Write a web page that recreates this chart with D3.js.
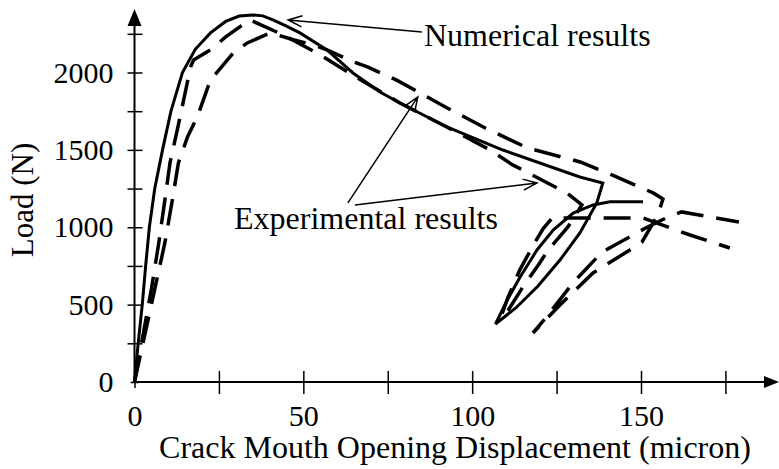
<!DOCTYPE html>
<html>
<head>
<meta charset="utf-8">
<script src="https://cdn.jsdelivr.net/npm/d3@7"></script>
<style>
  body { margin: 0; background: #fff; }
  svg { display: block; }
  text { font-family: "Liberation Serif", "Times New Roman", serif; fill: #000; }
</style>
</head>
<body>
<div id="chart"></div>
<script>
// [CMOD (micron), load (N)]
var numerical = [[0,0],[1,230],[2.3,500],[3.3,750],[4.4,1000],[6,1250],[8.3,1500],[10.8,1750],[14.2,2000],
  [18,2150],[22.5,2256],[27,2330],[31,2365],[35,2372],[38,2366],[41,2340],[45,2300],[49,2256],[57,2146],
  [64.7,1997],[72.7,1874],[78.6,1803],[92.5,1648],[109.1,1499],[131.9,1325],[138.7,1286],
  [136.9,1157],[131.9,963],[126,788],[119.5,620],[113,480],[106.9,375],
  [110.4,530],[114.2,679],[119.2,853],[124,982],[129.9,1092],[135.8,1144],[140.8,1164],[150.6,1164]];

var experiment1 = [[0,0],[2.5,300],[5,600],[7.2,900],[9,1176],[10.5,1415],[13.5,1712],[16.6,2036],[17.5,2081],
  [22.5,2146],[27,2230],[31.5,2300],[34.2,2340],[44,2243],[55,2114],[66,1965],[78.6,1803],[92.5,1648],
  [105.3,1500],[112,1403],[116.6,1351],[128,1222],[132.5,1144],[128.3,1000],[122.5,853],[120,769],
  [115,614],[110.7,465],[108.5,420],[110.5,540],[114,720],[118.5,900],[121,990],[123.7,1060],
  [150.6,1060],[156.2,1015],[164.5,950],[169,918],[176.3,866]];

var experiment2 = [[0,0],[3,300],[6,600],[9,900],[11,1150],[13,1416],[15.7,1584],[18.6,1713],[22.5,1952],
  [29.3,2127],[33.4,2191],[40.2,2256],[47,2212],[53,2178],[57,2146],[65,2068],[69,2036],[77.5,1952],
  [92.6,1771],[104,1640],[116.3,1513],[132,1422],[141.4,1338],[153.6,1222],[156.5,1183],[155,1080],
  [150.3,905],[146.7,853],[135.8,705],[126,498],[118,317],[122,420],[130,645],[138.5,840],[151.8,1000],
  [158,1066],[162,1099],[179,1034]];

var xMajor = [0, 50, 100, 150], xMinor = [25, 75, 125, 175];
var yMajor = [0, 500, 1000, 1500, 2000], yMinor = [250, 750, 1250, 1750, 2250];

var width = 779, height = 469;
var x = d3.scaleLinear().domain([0, 150]).range([134.5, 641]);
var y = d3.scaleLinear().domain([0, 2000]).range([382, 72.5]);
var xEnd = x.invert(779), yEnd = y.invert(9);

var svg = d3.select("#chart").append("svg")
    .attr("width", width)
    .attr("height", height);

// x axis
var gx = svg.append("g").attr("transform", "translate(0," + y(0) + ")");
gx.call(d3.axisBottom(x).tickValues(xMajor).tickSizeOuter(0).tickFormat(d3.format("d")));
gx.append("g").call(d3.axisBottom(x).tickValues(xMinor).tickSizeOuter(0).tickFormat(""));
gx.selectAll(".domain").remove();
gx.selectAll(".tick line").attr("stroke", "#000").attr("stroke-width", 1.5).attr("y1", -11).attr("y2", 12);
gx.select("g").selectAll(".tick line").attr("y1", -6).attr("y2", 6);
gx.selectAll(".tick text").attr("y", 44).attr("dy", null).style("font-size", "30px").attr("fill", "#000");

// y axis
var gy = svg.append("g").attr("transform", "translate(" + x(0) + ",0)");
gy.call(d3.axisLeft(y).tickValues(yMajor).tickSizeOuter(0).tickFormat(d3.format("d")));
gy.append("g").call(d3.axisLeft(y).tickValues(yMinor).tickSizeOuter(0).tickFormat(""));
gy.selectAll(".domain").remove();
gy.selectAll(".tick line").attr("stroke", "#000").attr("stroke-width", 1.5).attr("x1", -7).attr("x2", 8);
gy.select("g").selectAll(".tick line").attr("x1", -4).attr("x2", 4);
gy.selectAll(".tick text").attr("x", -21).attr("dy", "0.32em").style("font-size", "30px").attr("fill", "#000");

// axis lines with arrow heads
svg.append("line").attr("x1", x(0)).attr("x2", x(xEnd) - 10).attr("y1", y(0)).attr("y2", y(0))
    .attr("stroke", "#000").attr("stroke-width", 2);
svg.append("line").attr("x1", x(0)).attr("x2", x(0)).attr("y1", y(0)).attr("y2", y(yEnd) + 12)
    .attr("stroke", "#000").attr("stroke-width", 2);
svg.append("path")
    .attr("d", "M" + x(xEnd) + "," + y(0) + "l-15,-6l0,12z")
    .attr("fill", "#000");
svg.append("path")
    .attr("d", "M" + x(0) + "," + y(yEnd) + "l-7,17l14,0z")
    .attr("fill", "#000");

// curves
var line = d3.line()
    .x(function(d) { return x(d[0]); })
    .y(function(d) { return y(d[1]); });

var curves = [
  { data: experiment2, dash: "27,13", w: 3.5 },
  { data: experiment1, dash: "27,13", w: 3.5 },
  { data: numerical, dash: null, w: 3 }
];
svg.append("g").selectAll("path")
    .data(curves)
    .enter()
    .append("path")
    .attr("d", function(d) { return line(d.data); })
    .attr("fill", "none")
    .attr("stroke", "#000")
    .attr("stroke-width", function(d) { return d.w; })
    .attr("stroke-linejoin", "miter")
    .attr("stroke-dasharray", function(d) { return d.dash; });

// annotations
var arrows = [
  { from: [85.1, 2262], to: [45.5, 2339] },
  { from: [63.2, 1157], to: [83.9, 1842] },
  { from: [65.3, 1144], to: [119.2, 1286] }
];
arrows.forEach(function(a) {
    var x1 = x(a.from[0]), y1 = y(a.from[1]), x2 = x(a.to[0]), y2 = y(a.to[1]);
    var ang = Math.atan2(y2 - y1, x2 - x1), len = 15, spread = 0.38;
    var p = "M" + x1 + "," + y1 + "L" + x2 + "," + y2 +
        "M" + (x2 - len * Math.cos(ang - spread)) + "," + (y2 - len * Math.sin(ang - spread)) +
        "L" + x2 + "," + y2 +
        "L" + (x2 - len * Math.cos(ang + spread)) + "," + (y2 - len * Math.sin(ang + spread));
    svg.append("path").attr("d", p).attr("fill", "none").attr("stroke", "#000").attr("stroke-width", 1.5);
});

svg.append("text").attr("x", 424).attr("y", 46).style("font-size", "32px").text("Numerical results");
svg.append("text").attr("x", 234).attr("y", 229).style("font-size", "32px").text("Experimental results");

svg.append("text").attr("x", 455).attr("y", 458).attr("text-anchor", "middle")
    .style("font-size", "32px").text("Crack Mouth Opening Displacement (micron)");
svg.append("text").attr("transform", "translate(33,200) rotate(-90)").attr("text-anchor", "middle")
    .style("font-size", "31px").text("Load (N)");
</script>
</body>
</html>
